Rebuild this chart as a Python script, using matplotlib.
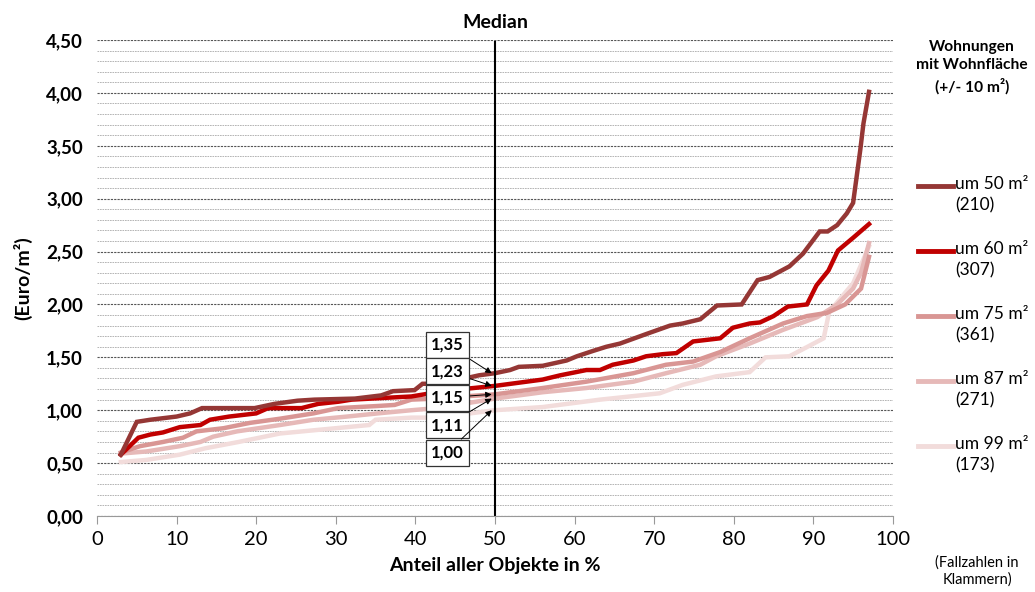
import matplotlib.pyplot as plt
from matplotlib.lines import Line2D
from matplotlib.ticker import MultipleLocator, FuncFormatter

plt.rcParams['font.family'] = ['Lato', 'DejaVu Sans']

# Daten
x50 = [3, 5, 6.7, 10, 11.7, 13.2, 19.8, 22.3, 25.2, 27.3, 32.4, 35.7, 37.2, 39.9, 40.9, 43, 45, 48, 50,
       51.9, 53, 56, 59, 60.3, 62.3, 64, 65.7, 69, 72, 73.6, 75.8, 77.9, 81, 83, 84.5, 87, 88.7, 90.8,
       91.8, 93, 94.2, 95, 95.9, 96.3, 97]
y50 = [0.58, 0.89, 0.91, 0.94, 0.97, 1.02, 1.02, 1.06, 1.09, 1.10, 1.11, 1.14, 1.18, 1.19, 1.25, 1.25,
       1.28, 1.33, 1.35, 1.38, 1.41, 1.42, 1.47, 1.51, 1.56, 1.60, 1.63, 1.72, 1.80, 1.82, 1.86, 1.99,
       2.00, 2.23, 2.26, 2.36, 2.48, 2.69, 2.69, 2.75, 2.86, 2.96, 3.46, 3.71, 4.01]

x60 = [3, 5.2, 6.7, 8.3, 10.4, 13, 14.2, 16.6, 20, 21.5, 25.7, 27.8, 30.3, 32, 39.5, 42.7, 46, 50, 56,
       58.2, 61.5, 63.2, 64.8, 67.4, 69, 71.1, 72.8, 74.9, 78.3, 79.9, 82, 83.3, 85, 86.8, 89.2, 90.4,
       91.9, 93.1, 95, 97]
y60 = [0.58, 0.74, 0.77, 0.79, 0.84, 0.86, 0.91, 0.94, 0.97, 1.02, 1.02, 1.06, 1.08, 1.10, 1.13, 1.17,
       1.20, 1.23, 1.29, 1.33, 1.38, 1.38, 1.43, 1.47, 1.51, 1.53, 1.54, 1.65, 1.68, 1.78, 1.82, 1.83,
       1.89, 1.98, 2.00, 2.18, 2.32, 2.51, 2.63, 2.76]

x75 = [3, 5.4, 8.3, 10.8, 12.5, 15.9, 19.2, 23, 27.2, 30.3, 35.3, 37.4, 39.5, 42.7, 46, 50, 56, 61.5,
       67.4, 71.5, 74.9, 78.3, 82, 86.2, 89.2, 91.7, 94, 96, 97]
y75 = [0.60, 0.66, 0.70, 0.74, 0.80, 0.83, 0.88, 0.92, 0.97, 1.02, 1.04, 1.05, 1.10, 1.11, 1.13, 1.15,
       1.21, 1.27, 1.35, 1.43, 1.46, 1.55, 1.68, 1.82, 1.89, 1.92, 2.00, 2.15, 2.45]

x87 = [3, 6.2, 10.4, 13, 14.6, 17.6, 23, 27.2, 31.4, 35.3, 39.5, 42.7, 46, 50, 56, 61.5, 67.4, 71.5,
       75.8, 77.8, 82, 86.2, 90.5, 93, 95, 96, 97]
y87 = [0.59, 0.61, 0.66, 0.70, 0.75, 0.80, 0.86, 0.91, 0.94, 0.97, 1.00, 1.02, 1.06, 1.11, 1.17, 1.21,
       1.27, 1.35, 1.43, 1.51, 1.63, 1.76, 1.88, 2.00, 2.15, 2.30, 2.58]

x99 = [3, 6.2, 10.4, 13.6, 17.8, 23, 27.2, 31.4, 34.2, 35, 39.5, 42.7, 50, 56, 63.2, 70.7, 73.6, 77.8,
       82, 84, 87, 91.3, 92, 95, 97]
y99 = [0.51, 0.53, 0.58, 0.64, 0.70, 0.78, 0.81, 0.84, 0.86, 0.91, 0.93, 0.93, 1.00, 1.03, 1.10, 1.16,
       1.24, 1.32, 1.36, 1.50, 1.51, 1.68, 1.93, 2.20, 2.55]

labels = ['um 50 m²\n(210)', 'um 60 m²\n(307)', 'um 75 m²\n(361)', 'um 87 m²\n(271)', 'um 99 m²\n(173)']
colors = ['#953735', '#C00000', '#D99694', '#E6B9B8', '#F2DCDB']
median_vals = [1.35, 1.23, 1.15, 1.11, 1.00]
median_txt = ['1,35', '1,23', '1,15', '1,11', '1,00']
box_y = [1.62, 1.37, 1.12, 0.86, 0.60]

series = [(x50, y50), (x60, y60), (x75, y75), (x87, y87), (x99, y99)]

fig = plt.figure(figsize=(10.35, 5.92), dpi=100)
ax = fig.add_axes([0.0937, 0.1284, 0.769, 0.804])

# Gitter
ax.set_ylim(0, 4.5)
ax.set_xlim(0, 100)
ax.yaxis.set_major_locator(MultipleLocator(0.5))
ax.yaxis.set_minor_locator(MultipleLocator(0.1))
ax.grid(axis='y', which='major', color='#555555', linestyle=(0, (2, 1)), linewidth=0.8)
ax.grid(axis='y', which='minor', color='#aaaaaa', linestyle=(0, (2, 1)), linewidth=0.6)
ax.set_axisbelow(True)

# Linien in umgekehrter Reihenfolge, dunkle oben
for (xs, ys), c in reversed(list(zip(series, colors))):
    ax.plot(xs, ys, color=c, linewidth=3.2, solid_joinstyle='miter')

ax.axvline(50, color='black', linewidth=1.5, ymax=0.995)

for v, t, by in zip(median_vals, median_txt, box_y):
    ax.annotate(t, xy=(49.6, v), xytext=(44, by), ha='center', va='center',
                fontsize=12, fontweight='bold',
                bbox=dict(boxstyle='square,pad=0.3', fc='white', ec='#333333', lw=0.9),
                arrowprops=dict(arrowstyle='-|>', color='black', lw=0.7,
                                mutation_scale=9, shrinkA=0, shrinkB=0))

ax.xaxis.set_major_locator(MultipleLocator(10))
ax.yaxis.set_major_formatter(FuncFormatter(lambda v, p: f'{v:.2f}'.replace('.', ',')))
ax.tick_params(axis='y', which='both', length=0, labelsize=13.5, pad=10)
ax.tick_params(axis='x', length=6, color='#999999', labelsize=14.5, direction='out', pad=5)
for lab in ax.get_yticklabels():
    lab.set_fontweight('bold')

for s in ['top', 'right', 'left']:
    ax.spines[s].set_visible(False)
ax.spines['bottom'].set_color('#999999')

ax.set_xlabel('Anteil aller Objekte in %', fontsize=14, fontweight='bold', labelpad=6)
ax.set_ylabel('(Euro/m²)', fontsize=14, fontweight='bold', labelpad=10)

fig.text(50 * 0.769 / 100 + 0.0937, 1 - 22 / 592, 'Median', ha='center', va='center',
         fontsize=14, fontweight='bold')

# Legende
fig.text(972 / 1035, 1 - 67 / 592, 'Wohnungen\nmit Wohnfläche\n(+/- 10 m²)', ha='center', va='center',
         fontsize=11.2, fontweight='bold', linespacing=1.4)
for i, (lab, c) in enumerate(zip(labels, colors)):
    yy = 1 - (186 + i * 65) / 592
    fig.add_artist(Line2D([918 / 1035, 953 / 1035], [yy, yy], color=c, linewidth=3.5))
    fig.text(955 / 1035, yy + 10 / 592, lab, ha='left', va='top', fontsize=12.5, linespacing=1.4)

fig.text(977 / 1035, 1 - 571 / 592, '(Fallzahlen in\nKlammern)', ha='center', va='center', fontsize=10.5,
         linespacing=1.2)

fig.savefig('out.png', dpi=100)
